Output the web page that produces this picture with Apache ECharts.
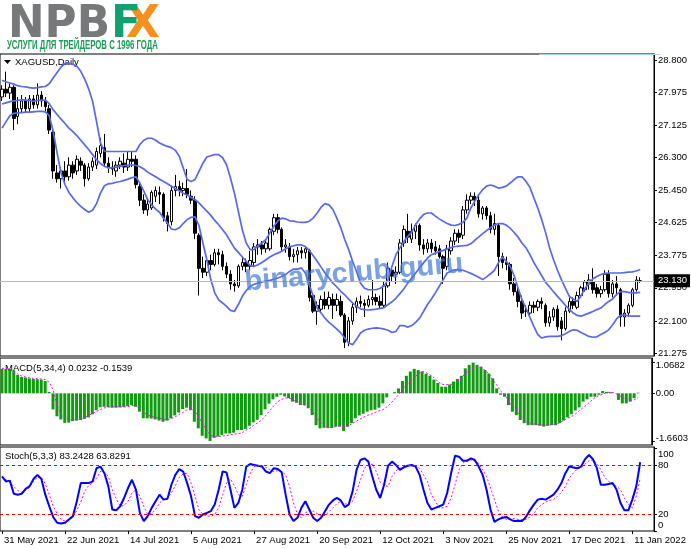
<!DOCTYPE html>
<html><head><meta charset="utf-8">
<script src="https://cdn.jsdelivr.net/npm/echarts@6.0.0/dist/echarts.min.js"></script>
<style>html,body{margin:0;padding:0;background:#fff}#c{width:691px;height:549px}</style>
</head><body><div id="c"></div><script>
// ---------- DATA ----------
const MONTHS=['Jan','Feb','Mar','Apr','May','Jun','Jul','Aug','Sep','Oct','Nov','Dec'];
const closedDays=['2021-12-24'];
function tradingDays(start,end){
  const out=[];const d=new Date(start+'T00:00:00Z');const e=new Date(end+'T00:00:00Z');
  while(d<=e){const wd=d.getUTCDay();const iso=d.toISOString().slice(0,10);
    if(wd!==0&&wd!==6&&closedDays.indexOf(iso)<0){out.push(d.getUTCDate()+' '+MONTHS[d.getUTCMonth()]+' '+d.getUTCFullYear());}
    d.setUTCDate(d.getUTCDate()+1);}
  return out;
}
const dates=tradingDays('2021-05-31','2022-01-13');

const openP=[27.85,28.05,27.95,28.10,27.35,27.55,27.75,27.55,27.80,27.65,
27.90,27.75,27.55,26.95,25.90,25.75,25.95,25.80,26.10,25.95,
26.20,26.10,25.75,26.05,26.10,26.40,26.55,26.15,26.05,25.95,
26.10,26.15,26.05,26.25,26.25,25.55,25.20,24.95,25.00,25.30,
25.40,25.35,24.80,24.65,25.45,25.55,25.45,25.50,25.30,25.20,
24.30,23.45,23.35,23.65,23.55,23.85,23.80,23.50,23.30,23.05,
23.00,23.50,23.60,23.50,23.60,24.00,24.05,23.95,23.95,24.40,
24.75,24.45,24.00,24.00,23.75,23.80,23.90,23.85,23.90,22.75,
22.35,22.40,22.65,22.50,22.65,22.50,22.60,22.25,21.55,22.10,
22.45,22.60,22.55,22.50,22.65,22.70,22.60,22.50,23.00,23.40,
23.30,23.35,24.10,24.40,24.20,24.40,24.55,24.05,23.95,24.10,
24.00,23.95,23.75,23.50,23.90,24.15,24.35,24.30,24.95,25.20,
25.30,25.20,24.85,25.00,24.80,24.45,24.55,23.75,23.60,23.55,
23.05,22.85,22.60,22.35,22.30,22.50,22.45,22.60,22.50,22.05,
22.20,22.40,22.10,21.90,22.35,22.60,22.45,22.75,22.90,23.05,
23.10,22.95,22.80,22.90,23.30,22.80,23.05,22.90,22.20,22.30,
22.50,22.90,23.13];
const highP=[28.15,28.50,28.20,28.15,27.85,27.90,27.85,27.90,27.90,28.20,
28.00,27.85,27.65,27.00,26.10,26.05,26.20,26.30,26.20,26.35,
26.30,26.15,26.15,26.30,26.55,26.80,26.90,26.30,26.20,26.20,
26.30,26.40,26.45,26.45,26.35,25.65,25.35,25.20,25.45,25.55,
25.55,25.40,24.90,25.55,25.85,25.70,25.65,26.00,25.45,25.30,
24.35,23.75,23.75,23.80,23.95,23.95,23.90,23.60,23.40,23.15,
23.55,23.75,23.70,23.90,24.10,24.20,24.15,24.20,24.50,24.85,
24.85,24.50,24.20,24.10,23.95,24.00,24.00,24.00,23.95,22.80,
22.60,22.75,22.85,22.85,22.80,22.80,22.75,22.30,22.20,22.55,
22.70,22.75,22.65,22.75,23.15,22.80,22.75,23.10,23.60,23.50,
23.50,24.20,24.55,24.85,24.60,24.60,24.60,24.20,24.20,24.20,
24.15,24.05,23.80,24.05,24.25,24.45,24.45,25.05,25.35,25.40,
25.40,25.30,25.05,25.05,24.90,24.85,24.60,23.85,23.75,23.60,
23.20,22.95,22.75,22.50,22.60,22.60,22.65,22.70,22.55,22.35,
22.45,22.50,22.20,22.45,22.70,22.70,22.85,23.00,23.15,23.30,
23.45,23.05,23.00,23.40,23.40,23.15,23.25,22.95,22.40,22.55,
22.95,23.25,23.22];
const lowP=[27.75,27.85,27.80,27.00,27.15,27.45,27.45,27.45,27.55,27.55,
27.60,27.45,26.90,25.75,25.65,25.50,25.65,25.70,25.75,25.85,
25.95,25.55,25.70,25.95,26.00,26.30,26.05,25.90,25.85,25.80,
26.00,25.90,25.95,26.05,25.50,25.05,24.85,24.80,24.95,25.15,
25.10,24.65,24.40,24.55,25.30,25.30,25.30,25.25,25.10,24.20,
22.75,23.20,23.25,23.40,23.50,23.55,23.40,23.20,22.90,22.85,
22.95,23.40,23.35,23.40,23.50,23.80,23.80,23.85,23.90,24.30,
24.35,23.90,23.85,23.65,23.60,23.60,23.70,23.70,22.60,22.30,
22.00,22.30,22.40,22.40,22.15,22.35,22.20,21.40,21.45,22.00,
22.30,22.45,22.20,22.45,22.50,22.50,22.40,22.45,22.95,23.10,
23.05,23.30,24.00,24.10,24.10,24.20,23.90,23.80,23.85,23.85,
23.80,23.70,23.05,23.40,23.80,24.05,24.10,24.20,24.85,25.10,
25.05,24.75,24.70,24.70,24.35,24.30,23.25,23.45,23.40,22.90,
22.75,22.45,22.15,22.20,22.25,22.30,22.35,22.40,21.95,21.95,
22.10,21.85,21.60,21.85,22.30,22.40,22.40,22.70,22.85,22.90,
22.80,22.70,22.70,22.85,22.70,22.70,22.75,21.95,21.95,22.20,
22.45,22.85,23.08];
const closeP=[28.05,27.95,28.10,27.30,27.55,27.75,27.55,27.80,27.65,27.90,
27.75,27.60,27.00,25.95,25.75,25.95,25.80,26.10,25.90,26.25,
26.10,25.75,26.05,26.20,26.45,26.60,26.15,26.05,26.00,26.10,
26.20,26.05,26.25,26.20,25.60,25.20,24.95,25.10,25.40,25.45,
25.35,24.75,24.60,25.45,25.55,25.45,25.50,25.35,25.20,24.35,
23.45,23.35,23.65,23.55,23.85,23.80,23.50,23.30,23.05,23.00,
23.50,23.60,23.50,23.65,24.00,24.05,23.95,24.10,24.45,24.75,
24.45,24.00,24.05,23.75,23.80,23.90,23.85,23.95,22.70,22.35,
22.50,22.65,22.50,22.70,22.50,22.65,22.25,21.55,22.10,22.45,
22.60,22.55,22.50,22.65,22.70,22.60,22.50,23.00,23.45,23.25,
23.35,24.10,24.45,24.25,24.40,24.55,24.05,23.95,24.10,23.95,
23.90,23.75,23.45,23.95,24.15,24.35,24.25,24.95,25.20,25.30,
25.20,24.85,25.00,24.80,24.45,24.60,23.75,23.60,23.55,23.05,
22.85,22.60,22.30,22.35,22.50,22.45,22.60,22.55,22.05,22.20,
22.40,21.95,21.90,22.35,22.60,22.50,22.75,22.95,23.10,23.15,
22.90,22.80,22.90,23.30,22.80,23.05,22.95,22.20,22.30,22.50,
22.90,23.15,23.13];

const bbUpper=[28.28,28.24,28.21,28.18,28.14,28.12,28.11,28.09,28.08,28.09,
28.11,28.12,28.19,28.34,28.48,28.62,28.71,28.72,28.69,28.64,
28.51,28.31,28.06,27.74,27.22,26.67,26.45,26.45,26.45,26.45,
26.45,26.45,26.45,26.45,26.45,26.63,26.74,26.79,26.79,26.74,
26.67,26.62,26.58,26.55,26.48,26.33,26.03,25.73,25.68,25.73,
25.94,26.15,26.31,26.34,26.37,26.37,26.29,26.11,25.77,25.38,
24.91,24.44,24.10,23.93,23.93,24.03,24.10,24.19,24.36,24.53,
24.66,24.74,24.72,24.67,24.66,24.64,24.63,24.63,24.66,24.74,
24.87,25.02,25.11,25.08,24.96,24.74,24.49,24.19,23.93,23.63,
23.37,23.07,22.94,22.90,22.90,22.90,22.94,23.00,23.16,23.50,
23.80,23.97,24.14,24.27,24.38,24.57,24.72,24.83,24.87,24.87,
24.79,24.72,24.66,24.60,24.56,24.55,24.58,24.63,24.74,25.00,
25.17,25.34,25.47,25.56,25.59,25.56,25.51,25.53,25.56,25.64,
25.73,25.80,25.80,25.68,25.53,25.26,25.00,24.70,24.36,23.97,
23.67,23.40,23.16,22.94,22.73,22.66,22.60,22.75,22.94,23.07,
23.18,23.24,23.29,23.32,23.33,23.33,23.33,23.33,23.34,23.35,
23.36,23.38,23.42];
const bbMiddle=[27.67,27.70,27.73,27.75,27.76,27.78,27.77,27.76,27.74,27.76,
27.77,27.77,27.68,27.52,27.40,27.28,27.17,27.05,26.96,26.86,
26.74,26.62,26.50,26.37,26.24,26.14,26.07,26.03,26.03,26.05,
26.07,26.09,26.10,26.11,26.09,26.06,26.00,25.92,25.86,25.80,
25.74,25.68,25.62,25.56,25.50,25.44,25.38,25.33,25.27,25.21,
25.13,25.02,24.92,24.81,24.68,24.57,24.44,24.31,24.14,23.97,
23.86,23.74,23.63,23.52,23.50,23.54,23.60,23.67,23.74,23.80,
23.84,23.89,23.95,24.00,24.03,24.05,24.05,24.01,23.91,23.77,
23.63,23.48,23.33,23.20,23.07,22.97,22.86,22.77,22.66,22.56,
22.47,22.41,22.39,22.38,22.39,22.40,22.42,22.44,22.52,22.59,
22.68,22.80,22.92,23.07,23.20,23.33,23.46,23.59,23.71,23.80,
23.84,23.88,23.91,23.95,23.98,24.01,24.02,24.03,24.04,24.08,
24.17,24.25,24.34,24.42,24.49,24.56,24.60,24.60,24.56,24.48,
24.37,24.25,24.10,23.98,23.80,23.60,23.43,23.26,23.09,22.97,
22.85,22.73,22.62,22.50,22.40,22.30,22.24,22.22,22.26,22.30,
22.34,22.39,22.43,22.52,22.60,22.66,22.78,22.85,22.85,22.83,
22.82,22.82,22.83];
const bbLower=[27.05,27.21,27.37,27.43,27.44,27.45,27.46,27.46,27.47,27.48,
27.48,27.47,27.37,26.97,26.41,25.90,25.60,25.40,25.26,25.14,
25.04,24.96,24.89,24.94,25.11,25.38,25.57,25.62,25.63,25.66,
25.68,25.71,25.74,25.78,25.80,25.64,25.43,25.21,25.08,24.97,
24.89,24.74,24.61,24.46,24.44,24.49,24.60,24.70,24.76,24.77,
24.55,24.10,23.67,23.16,22.82,22.64,22.56,22.47,22.37,22.34,
22.52,22.73,22.88,22.99,23.04,23.07,23.10,23.12,23.14,23.17,
23.20,23.24,23.29,23.37,23.43,23.43,23.46,23.33,23.03,22.73,
22.43,22.30,22.17,22.06,21.98,21.89,21.79,21.66,21.53,21.49,
21.63,21.79,21.86,21.89,21.91,21.92,21.91,21.89,21.86,21.80,
21.83,21.98,21.98,21.94,21.98,22.06,22.17,22.34,22.52,22.66,
22.82,22.99,23.16,23.33,23.38,23.41,23.41,23.40,23.36,23.32,
23.27,23.22,23.16,23.23,23.31,23.40,23.59,23.74,23.63,23.50,
23.26,22.94,22.64,22.43,22.19,21.96,21.75,21.66,21.69,21.70,
21.70,21.70,21.72,21.77,21.83,21.87,21.86,21.80,21.75,21.70,
21.68,21.69,21.75,21.80,21.87,22.00,22.15,22.24,22.25,22.23,
22.22,22.22,22.22];

const macdMain=[0.85,0.85,0.84,0.80,0.64,0.57,0.55,0.52,0.50,0.49,
0.48,0.43,0.05,-0.56,-0.80,-0.91,-1.03,-1.02,-0.97,-0.95,
-0.93,-0.89,-0.84,-0.73,-0.59,-0.49,-0.47,-0.48,-0.50,-0.50,
-0.49,-0.48,-0.45,-0.41,-0.47,-0.64,-0.87,-0.87,-0.88,-0.91,
-0.95,-0.99,-0.95,-0.87,-0.77,-0.67,-0.55,-0.50,-0.59,-0.99,
-1.22,-1.48,-1.57,-1.66,-1.55,-1.51,-1.45,-1.40,-1.40,-1.37,
-1.28,-1.28,-1.24,-1.13,-1.01,-0.92,-0.76,-0.56,-0.36,-0.21,
-0.12,-0.05,-0.11,-0.17,-0.29,-0.33,-0.41,-0.41,-0.52,-0.76,
-1.11,-1.22,-1.20,-1.21,-1.21,-1.16,-1.16,-1.31,-1.16,-1.04,
-0.87,-0.77,-0.71,-0.64,-0.59,-0.57,-0.50,-0.35,-0.14,0.00,
0.04,0.17,0.43,0.61,0.76,0.85,0.81,0.76,0.68,0.61,
0.48,0.36,0.23,0.23,0.31,0.41,0.50,0.61,0.87,0.99,
1.07,0.99,0.93,0.81,0.69,0.52,0.17,-0.05,-0.12,-0.41,
-0.64,-0.76,-0.93,-1.04,-1.11,-1.11,-1.11,-1.13,-1.16,-1.13,
-1.11,-1.11,-1.04,-0.95,-0.84,-0.73,-0.60,-0.49,-0.29,-0.21,
-0.12,-0.12,-0.05,0.08,0.05,0.04,0.00,-0.23,-0.35,-0.35,
-0.29,-0.17,0.0232];
const macdSignal=[0.87,0.87,0.84,0.76,0.68,0.60,0.57,0.55,0.52,0.51,
0.50,0.48,0.39,0.12,-0.41,-0.72,-0.86,-0.91,-0.93,-0.92,
-0.89,-0.86,-0.77,-0.71,-0.64,-0.57,-0.51,-0.48,-0.47,-0.47,
-0.47,-0.47,-0.47,-0.43,-0.43,-0.52,-0.64,-0.76,-0.80,-0.84,
-0.86,-0.89,-0.93,-0.88,-0.83,-0.75,-0.67,-0.59,-0.53,-0.61,
-0.80,-1.04,-1.24,-1.45,-1.51,-1.51,-1.49,-1.48,-1.45,-1.43,
-1.40,-1.39,-1.29,-1.23,-1.13,-1.04,-0.95,-0.80,-0.64,-0.47,
-0.32,-0.23,-0.16,-0.16,-0.21,-0.28,-0.36,-0.41,-0.49,-0.63,
-0.83,-0.99,-1.12,-1.19,-1.19,-1.16,-1.13,-1.16,-1.15,-1.07,
-0.99,-0.91,-0.84,-0.77,-0.73,-0.67,-0.61,-0.57,-0.48,-0.35,
-0.20,-0.05,0.12,0.29,0.43,0.55,0.67,0.76,0.72,0.64,
0.55,0.41,0.32,0.29,0.31,0.32,0.41,0.55,0.68,0.81,
0.89,0.93,0.89,0.81,0.69,0.47,0.29,0.08,-0.05,-0.27,
-0.44,-0.61,-0.77,-0.92,-1.01,-1.05,-1.08,-1.09,-1.11,-1.11,
-1.09,-1.07,-1.03,-0.95,-0.87,-0.81,-0.73,-0.61,-0.50,-0.39,
-0.27,-0.15,-0.08,-0.03,0.03,0.04,0.01,-0.05,-0.15,-0.21,
-0.25,-0.23,-0.1539];

const stochMain=[66,60,61,45,44,45,51,54,63,68,
63,44,30,17,10,9,10,14,18,36,
58,58,58,60,76,78,70,54,26,25,
30,40,52,62,50,22,12,18,28,36,
44,38,39,56,68,75,72,58,42,18,
16,20,22,24,32,50,72,71,50,28,
34,50,78,81,80,79,78,72,70,76,
75,71,44,20,12,16,28,36,26,16,
12,16,24,32,37,40,37,29,32,48,
74,86,88,84,66,50,40,56,79,84,
80,74,77,79,80,78,68,50,34,26,
28,30,32,46,70,91,90,85,85,88,
86,78,68,50,26,11,14,16,17,14,
12,12,12,17,25,32,38,39,38,41,
44,50,58,70,78,77,76,78,87,92,
87,76,56,56,57,58,50,34,25,25,
38,54,83.2428];
const stochSignal=[65,62,59,54,49,47,49,53,60,65,
65,57,44,30,21,14,12,14,17,25,
35,48,55,58,64,72,71,66,50,39,
30,31,36,46,50,42,30,20,21,26,
34,38,40,46,55,65,69,70,58,42,
26,20,18,18,20,28,44,58,63,55,
44,42,56,70,78,79,79,77,74,72,
73,72,68,54,34,20,16,22,25,24,
21,18,19,23,28,33,36,33,32,36,
48,62,76,80,81,72,59,55,54,66,
73,76,78,79,79,78,76,68,60,44,
36,28,28,30,40,56,74,82,86,86,
85,82,74,66,52,38,24,17,14,15,
15,14,14,14,17,21,28,32,35,37,
38,42,47,54,64,70,75,77,81,85,
86,82,74,65,60,56,54,50,40,32,
28,42,63.8291];

const priceTicks=[28.800,27.975,27.125,26.300,25.450,24.625,23.775,22.950,22.100,21.275];
const macdTicks=[1.0682,0,-1.6603];
const stochTicks=[100,80,20,0];
const stochLevels=[20,80];
const currentPrice=23.130;
const symbolTitle='XAGUSD,Daily';
const macdTitle='MACD(5,34,4) 0.0232 -0.1539';
const stochTitle='Stoch(5,3,3) 83.2428 63.8291';

// ---------- CHART ----------
const FONT='"Liberation Sans", Arial, sans-serif';
const cats=dates.concat([' ','  ','   ']);
const candles=dates.map((d,i)=>[openP[i],closeP[i],lowP[i],highP[i]]);
function tw(txt,font){const c=document.createElement('canvas').getContext('2d');c.font=font;return c.measureText(txt).width;}

const chart=echarts.init(document.getElementById('c'),null,{renderer:'canvas'});
const lbl={fontSize:9.5,color:'#000',fontFamily:FONT};
function xAx(i){return {type:'category',gridIndex:i,data:cats,boundaryGap:true,
  axisLine:{show:false},
  axisTick:{show:i===2,interval:15,alignWithLabel:true,length:3,lineStyle:{color:'#000'}},
  axisLabel:Object.assign({show:i===2,interval:15,align:'left',margin:4,padding:[0,0,0,2]},lbl),
  splitLine:{show:false}};}
function yAx(i,min,max,ticks,fmt,rich){return {type:'value',gridIndex:i,position:'right',min:min,max:max,
  axisLine:{show:true,lineStyle:{color:'#000'}},
  axisTick:{show:true,customValues:ticks,length:3,lineStyle:{color:'#000'}},
  axisLabel:Object.assign({customValues:ticks,formatter:fmt,margin:4,showMinLabel:true,showMaxLabel:true,hideOverlap:false,rich:rich||{}},lbl),
  splitLine:{show:false}};}

const NPBfont='bold 44px "DejaVu Sans", sans-serif';
const npbScale=102/tw('NPB',NPBfont);
const tagText='УСЛУГИ ДЛЯ ТРЕЙДЕРОВ С 1996 ГОДА';
const tagFont='bold 12px "Liberation Sans", sans-serif';
const tagScale=151/tw(tagText,tagFont);

const option={
  animation:false,
  backgroundColor:'#fff',
  grid:[
    {left:0,right:37,top:54,height:302,show:true,borderColor:'#000',borderWidth:1,backgroundColor:'#fff'},
    {left:0,right:37,top:358,height:87,show:true,borderColor:'#000',borderWidth:1,backgroundColor:'#fff'},
    {left:0,right:37,top:447,height:84,show:true,borderColor:'#000',borderWidth:1,backgroundColor:'#fff'}
  ],
  xAxis:[xAx(0),xAx(1),xAx(2)],
  yAxis:[
    yAx(0,21.198,28.954,priceTicks,v=>v.toFixed(3)),
    yAx(1,-1.80,1.23,macdTicks,v=>v===0?'0.00':(v>0?'{t|'+v.toFixed(4)+'}':'{b|'+v.toFixed(4)+'}'),
      {t:Object.assign({padding:[6,0,0,0]},lbl),b:Object.assign({padding:[0,0,6,0]},lbl)}),
    yAx(2,0,101.7,stochTicks,v=>v===100?'{t|100}':(v===0?'{b|0}':String(v)),
      {t:Object.assign({padding:[11,0,0,0]},lbl),b:Object.assign({padding:[0,0,12,0]},lbl)})
  ],
  series:[
    {type:'candlestick',xAxisIndex:0,yAxisIndex:0,data:candles,barWidth:3,
     itemStyle:{color:'#fff',color0:'#000',borderColor:'#000',borderColor0:'#000',borderWidth:1},
     markLine:{silent:true,symbol:['none','none'],animation:false,
       data:[{yAxis:currentPrice}],
       lineStyle:{color:'#b8b8b8',type:'solid',width:1},
       label:{show:true,position:'end',distance:1,formatter:()=>currentPrice.toFixed(3),
         backgroundColor:'#000',color:'#fff',padding:[2,3,1,3],fontSize:9.5,fontFamily:FONT}}},
    {type:'line',xAxisIndex:0,yAxisIndex:0,data:bbUpper,showSymbol:false,lineStyle:{color:'#5a68f0',width:1.7}},
    {type:'line',xAxisIndex:0,yAxisIndex:0,data:bbMiddle,showSymbol:false,lineStyle:{color:'#5a68f0',width:1.7}},
    {type:'line',xAxisIndex:0,yAxisIndex:0,data:bbLower,showSymbol:false,lineStyle:{color:'#5a68f0',width:1.7}},
    {type:'bar',xAxisIndex:1,yAxisIndex:1,data:macdMain,barWidth:3,itemStyle:{color:'#109a10'}},
    {type:'line',xAxisIndex:1,yAxisIndex:1,data:macdSignal,showSymbol:false,z:5,lineStyle:{color:'#ff00ff',width:1,type:[2,2]}},
    {type:'line',xAxisIndex:2,yAxisIndex:2,data:stochSignal,showSymbol:false,lineStyle:{color:'#ff00ff',width:1,type:[2,2]}},
    {type:'line',xAxisIndex:2,yAxisIndex:2,data:stochMain,showSymbol:false,lineStyle:{color:'#0000ff',width:2},
     markLine:{silent:true,symbol:['none','none'],animation:false,label:{show:false},
       lineStyle:{color:'#ff0000',type:[3,3],width:1},data:stochLevels.map(v=>({yAxis:v}))}}
  ],
  graphic:[
    {type:'text',x:8,y:4,scaleX:npbScale,style:{text:'NPB',font:NPBfont,fill:'#76787a',textVerticalAlign:'top'}},
    {type:'text',x:126,y:4,style:{text:'X',font:NPBfont,fill:'#f5901e',textVerticalAlign:'top'}},
    {type:'text',x:111,y:4,style:{text:'F',font:NPBfont,fill:'#12a070',textVerticalAlign:'top'}},
    {type:'text',x:7,y:40,scaleX:tagScale,style:{text:tagText,font:tagFont,fill:'#1d9c58',textVerticalAlign:'top'}},
    {type:'line',shape:{x1:539,y1:54.5,x2:660,y2:54.5},style:{stroke:'#a9cdea',lineWidth:1},z:50},
    {type:'polygon',shape:{points:[[4,60],[11,60],[7.5,64]]},style:{fill:'#000'}},
    {type:'text',x:15,y:62,style:{text:symbolTitle,font:'9.5px '+FONT,fill:'#000',textVerticalAlign:'middle'}},
    {type:'text',x:5,y:368,style:{text:macdTitle,font:'9.5px '+FONT,fill:'#000',textVerticalAlign:'middle'}},
    {type:'text',x:5,y:456,style:{text:stochTitle,font:'9.5px '+FONT,fill:'#000',textVerticalAlign:'middle'}},
    {type:'text',x:246,y:297,rotation:0.085,z:100,style:{text:'binaryclub.guru',font:'bold 29px '+FONT,fill:'rgba(70,125,215,0.72)',textVerticalAlign:'bottom'}}
  ]
};
chart.setOption(option);
</script></body></html>
